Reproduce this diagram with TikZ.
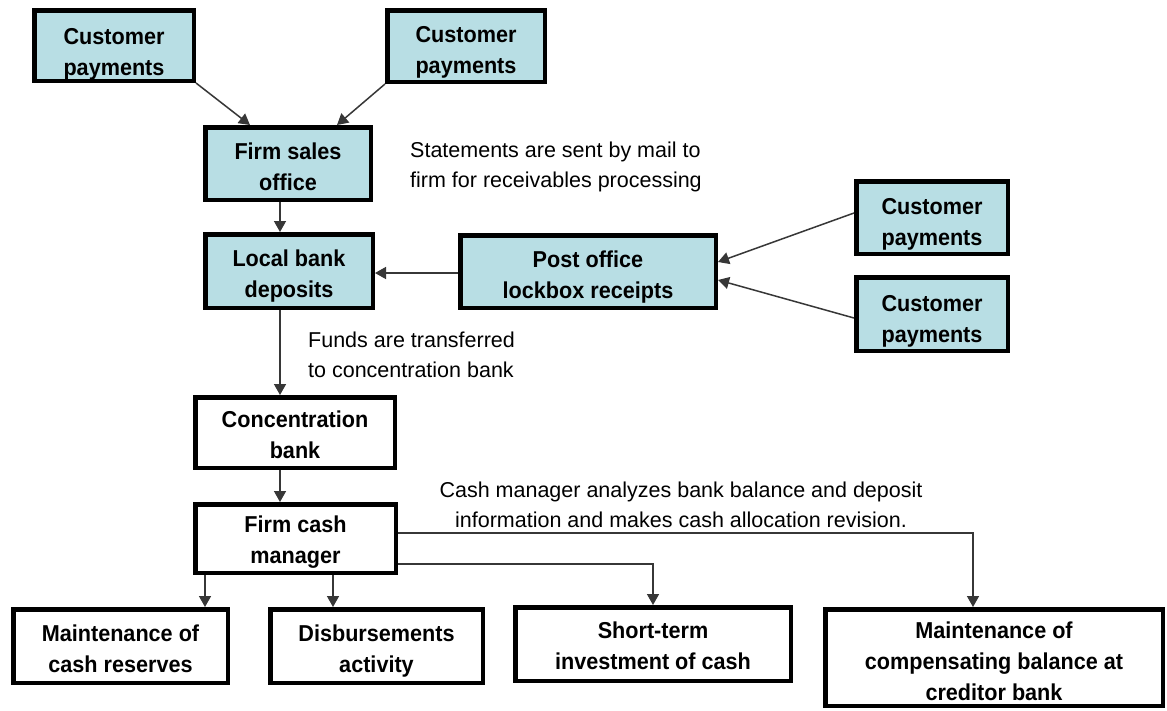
\documentclass[tikz,border=0pt]{standalone}
\usepackage{fontspec}
\setmainfont{Liberation Sans}
\newfontfamily\boxfont[FakeStretch=0.94]{Liberation Sans}
\usetikzlibrary{arrows.meta,calc}
\definecolor{boxblue}{RGB}{184,222,228}
\definecolor{arrgray}{RGB}{55,55,55}
\begin{document}
\begin{tikzpicture}[x=1pt,y=-1pt,
  box/.style={draw=black, line width=4.5pt, inner sep=0pt, align=center,
    text depth=0pt, text height=52pt, font=\boxfont\bfseries\fontsize{23}{31}\selectfont},
  bluebox/.style={box, fill=boxblue},
  whitebox/.style={box, fill=white},
  note/.style={inner sep=0pt, align=left, font=\fontsize{21.5}{29.5}\selectfont},
  arr/.style={draw=arrgray, line width=1.5pt, -{Triangle[width=12pt,length=11pt]}}
]
\useasboundingbox[fill=white] (0,0) rectangle (1167,710);

\node[bluebox, text height=59pt, minimum width=159.5pt, minimum height=70.5pt] (cp1) at (114,45.5) {Customer\\payments};
\node[bluebox, text height=55pt, minimum width=157.5pt, minimum height=71.5pt] (cp2) at (466,46) {Customer\\payments};
\node[bluebox, text height=53pt, minimum width=165.5pt, minimum height=72.5pt] (fso) at (288,163.5) {Firm sales\\office};
\node[bluebox, text height=52pt, minimum width=167.5pt, minimum height=73.5pt] (lbd) at (289,271) {Local bank\\deposits};
\node[bluebox, text height=53pt, minimum width=255.5pt, minimum height=72.5pt] (pol) at (588,271.5) {Post office\\lockbox receipts};
\node[bluebox, text height=55pt, minimum width=151.5pt, minimum height=72.5pt] (cp3) at (932,217.5) {Customer\\payments};
\node[bluebox, text height=56pt, minimum width=151.5pt, minimum height=73.5pt] (cp4) at (932,314) {Customer\\payments};
\node[whitebox, text height=51pt, minimum width=199.5pt, minimum height=70.5pt] (cb) at (295,432.5) {Concentration\\bank};
\node[whitebox, text height=49pt, minimum width=200.5pt, minimum height=68.5pt] (fcm) at (295.5,538.5) {Firm cash\\manager};
\node[whitebox, text height=52pt, minimum width=214.5pt, minimum height=73.5pt] (mcr) at (120.5,646) {Maintenance of\\cash reserves};
\node[whitebox, text height=52pt, minimum width=212.5pt, minimum height=73.5pt] (da) at (376.5,646) {Disbursements\\activity};
\node[whitebox, text height=51pt, minimum width=275.5pt, minimum height=73.5pt] (sti) at (653,644) {Short-term\\investment of cash};
\node[whitebox, text height=85pt, minimum width=337.5pt, minimum height=96.5pt] (mcb) at (994,657.5) {Maintenance of\\compensating balance at\\creditor bank};

\node[note, anchor=base west] (n1) at (410,187) {Statements are sent by mail to\\firm for receivables processing};
\node[note, anchor=base west] (n2) at (308,377) {Funds are transferred\\to concentration bank};
\node[note, align=center, anchor=base] (n3) at (681,527) {Cash manager analyzes bank balance and deposit\\information and makes cash allocation revision.};

\coordinate (xa) at (280,0);
\coordinate (xb) at (205,0);
\coordinate (xc) at (333,0);
\coordinate (xd) at (653,0);
\coordinate (xe) at (973,0);
\coordinate (t1) at (250,0);
\coordinate (t2) at (337,0);
\coordinate (ya) at (0,533);
\coordinate (yb) at (0,564);
\coordinate (yc) at (0,273);

\draw[arr] (cp1.south east) -- (fso.north -| t1);
\draw[arr] (cp2.south west) -- (fso.north -| t2);
\draw[arr] (fso.south -| xa) -- (lbd.north -| xa);
\draw[arr] (pol.west |- yc) -- (lbd.east |- yc);
\draw[arr] ($(cp3.west)+(0,-4.5)$) -- ($(pol.east)+(0,-9.5)$);
\draw[arr] ($(cp4.west)+(0,4)$) -- ($(pol.east)+(0,8.5)$);
\draw[arr] (lbd.south -| xa) -- (cb.north -| xa);
\draw[arr] (cb.south -| xa) -- (fcm.north -| xa);
\draw[arr] (fcm.south -| xb) -- (mcr.north -| xb);
\draw[arr] (fcm.south -| xc) -- (da.north -| xc);
\draw[arr] (fcm.east |- yb) -| (sti.north -| xd);
\draw[arr] (fcm.east |- ya) -| (mcb.north -| xe);
\end{tikzpicture}
\end{document}
